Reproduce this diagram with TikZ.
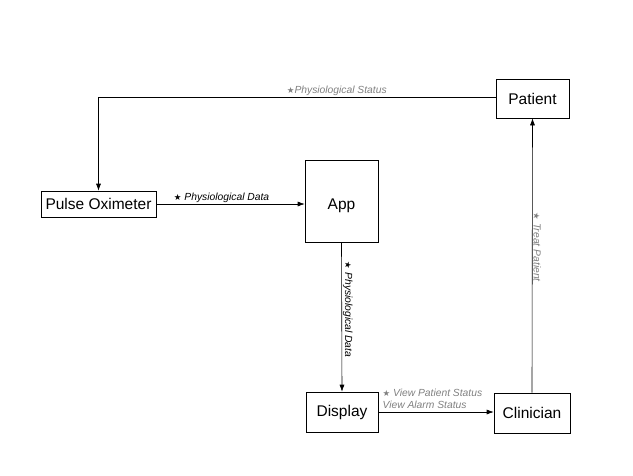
\documentclass[tikz,border=0pt]{standalone}
\usepackage{fontspec}
\setmainfont{Liberation Sans}
\newfontfamily\starfont{DejaVu Sans}
\usepackage{tikz}
\usetikzlibrary{arrows.meta}
\newcommand{\flowstar}{{\starfont\upshape\fontsize{8.5}{9}\selectfont\char"2605}}

\begin{document}
\begin{tikzpicture}[->,>={Latex[length=7pt,width=5pt]},x=1pt,y=-1pt,
                    semithick,every node/.style={font=\fontsize{15.5}{18}\selectfont}]
  \tikzstyle{block}=[draw=black,fill=white,->,inner sep=2pt]
  \tikzstyle{flowlabel}=[font=\fontsize{10.3}{12}\selectfont\itshape,inner sep=1pt,text=black]
  \tikzstyle{greylabel}=[flowlabel,text=gray]

  \useasboundingbox (0,0) rectangle (633,475);

  \node[block,minimum width=73pt,minimum height=39pt] (patient)   at (532.5,98.5) {Patient};
  \node[block,minimum width=115pt,minimum height=26pt] (pulse)    at (98.5,204)   {Pulse Oximeter};
  \node[block,minimum width=73pt,minimum height=82pt,text height=20pt,text depth=3pt] (app) at (341.5,201) {App};
  \node[block,minimum width=72pt,minimum height=40pt] (display)   at (342,412)    {Display};
  \node[block,minimum width=76pt,minimum height=40pt] (clinician) at (532,413)    {Clinician};

  \draw (patient.west |- 0,97) -| node[greylabel,above,pos=0.2] {\flowstar Physiological Status} (pulse.north);

  \path (pulse.east) edge node[flowlabel,above,pos=0.44] {\flowstar{} Physiological Data} (pulse.east -| app.west)
   (app.south) edge node[flowlabel,rotate=-90,anchor=south,pos=0.45] {\flowstar{} Physiological Data} (display.north)
   (display.east |- 0,412) edge node[greylabel,anchor=south west,pos=0,align=left,xshift=3pt,yshift=2.5pt]
        {\flowstar{} View Patient Status\\View Alarm Status} (clinician.west |- 0,412)
   (clinician.north) edge node[greylabel,rotate=-90,anchor=south,pos=0.53] {\flowstar{} Treat Patient} (patient.south);
\end{tikzpicture}
\end{document}
